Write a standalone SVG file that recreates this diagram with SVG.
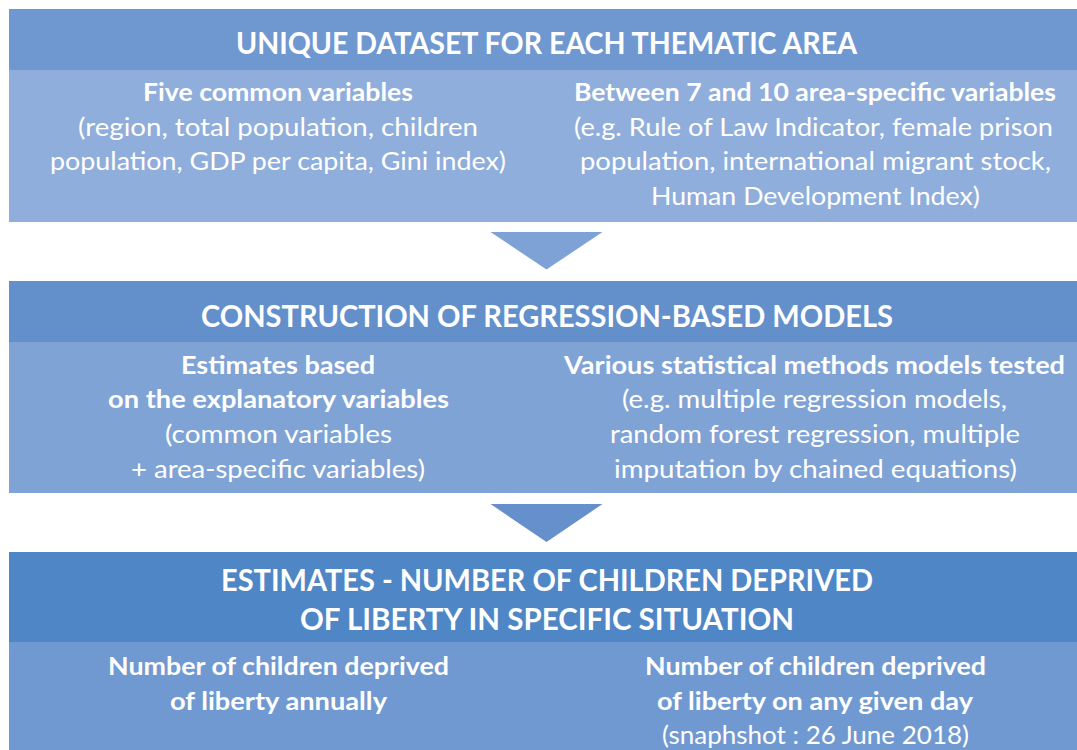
<svg xmlns="http://www.w3.org/2000/svg" width="1077" height="750" viewBox="0 0 1077 750">
<style>
text{font-family:Lato,"Open Sans","Liberation Sans",sans-serif;fill:#ffffff;text-anchor:middle}
.t{font-size:31px;font-weight:700}
.s{font-size:25px;font-weight:700}
.b{font-size:25px;font-weight:400}
</style>
<rect width="1077" height="750" fill="#ffffff"/>
<g id="box1">
<rect x="9" y="9" width="1068" height="213" fill="#8FAEDB"/>
<rect x="9" y="9" width="1068" height="61" fill="#7098D0"/>
<text class="t" x="546.5" y="54" textLength="621" lengthAdjust="spacingAndGlyphs">UNIQUE DATASET FOR EACH THEMATIC AREA</text>
<text class="s" x="278" y="101" textLength="270" lengthAdjust="spacingAndGlyphs">Five common variables</text>
<text class="b" x="278" y="136" textLength="400" lengthAdjust="spacingAndGlyphs">(region, total population, children</text>
<text class="b" x="278" y="170" textLength="456" lengthAdjust="spacingAndGlyphs">population, GDP per capita, Gini index)</text>
<text class="s" x="815" y="101" textLength="482" lengthAdjust="spacingAndGlyphs">Between 7 and 10 area-specific variables</text>
<text class="b" x="813.5" y="136" textLength="479" lengthAdjust="spacingAndGlyphs">(e.g. Rule of Law Indicator, female prison</text>
<text class="b" x="815.5" y="170" textLength="471" lengthAdjust="spacingAndGlyphs">population, international migrant stock,</text>
<text class="b" x="815.5" y="205" textLength="329" lengthAdjust="spacingAndGlyphs">Human Development Index)</text>
</g>
<g id="box2">
<rect x="9" y="281" width="1068" height="212" fill="#80A3D6"/>
<rect x="9" y="281" width="1068" height="61" fill="#6390CB"/>
<text class="t" x="547" y="327" textLength="692" lengthAdjust="spacingAndGlyphs">CONSTRUCTION OF REGRESSION-BASED MODELS</text>
<text class="s" x="278" y="374" textLength="194" lengthAdjust="spacingAndGlyphs">Estimates based</text>
<text class="s" x="278.5" y="408" textLength="341" lengthAdjust="spacingAndGlyphs">on the explanatory variables</text>
<text class="b" x="278.5" y="443" textLength="227" lengthAdjust="spacingAndGlyphs">(common variables</text>
<text class="b" x="278" y="478" textLength="294" lengthAdjust="spacingAndGlyphs">+ area-specific variables)</text>
<text class="s" x="814.5" y="374" textLength="501" lengthAdjust="spacingAndGlyphs">Various statistical methods models tested</text>
<text class="b" x="814.5" y="408" textLength="385" lengthAdjust="spacingAndGlyphs">(e.g. multiple regression models,</text>
<text class="b" x="815" y="443" textLength="410" lengthAdjust="spacingAndGlyphs">random forest regression, multiple</text>
<text class="b" x="815.5" y="478" textLength="403" lengthAdjust="spacingAndGlyphs">imputation by chained equations)</text>
</g>
<g id="box3">
<rect x="9" y="552" width="1068" height="198" fill="#7099D1"/>
<rect x="9" y="552" width="1068" height="90" fill="#4F86C6"/>
<text class="t" x="547" y="591" textLength="652" lengthAdjust="spacingAndGlyphs">ESTIMATES - NUMBER OF CHILDREN DEPRIVED</text>
<text class="t" x="547" y="630" textLength="494" lengthAdjust="spacingAndGlyphs">OF LIBERTY IN SPECIFIC SITUATION</text>
<text class="s" x="278.5" y="675" textLength="341" lengthAdjust="spacingAndGlyphs">Number of children deprived</text>
<text class="s" x="278.5" y="710" textLength="217" lengthAdjust="spacingAndGlyphs">of liberty annually</text>
<text class="s" x="815.5" y="675" textLength="341" lengthAdjust="spacingAndGlyphs">Number of children deprived</text>
<text class="s" x="815" y="710" textLength="316" lengthAdjust="spacingAndGlyphs">of liberty on any given day</text>
<text class="b" x="815.5" y="744" textLength="307" lengthAdjust="spacingAndGlyphs">(snaphshot : 26 June 2018)</text>
</g>
<g id="connectors">
<polygon points="490.5,232 602.5,232 546.5,269.5" fill="#7EA2D6"/>
<polygon points="490.5,504 602.5,504 546.5,542" fill="#6590CB"/>
</g>
</svg>
